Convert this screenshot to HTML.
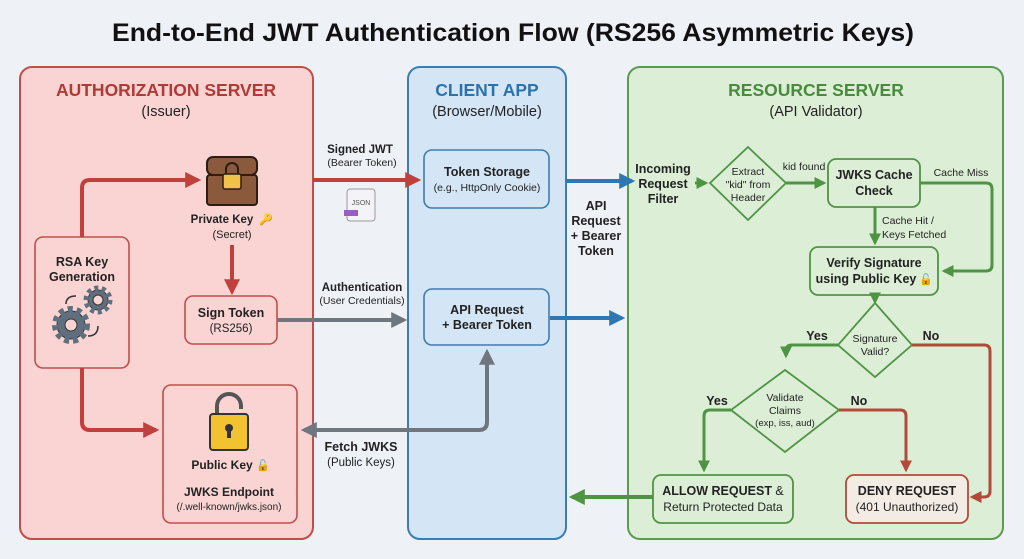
<!DOCTYPE html>
<html><head><meta charset="utf-8"><style>
html,body{margin:0;padding:0;background:#eef2f6;}
svg{display:block;font-family:"Liberation Sans",sans-serif;}
</style></head><body>
<svg width="1024" height="559" viewBox="0 0 1024 559" xmlns="http://www.w3.org/2000/svg">
<defs>
<marker id="ar" viewBox="0 0 10 10" refX="8" refY="5" markerWidth="4" markerHeight="4" orient="auto-start-reverse"><path d="M0,0L10,5L0,10z" fill="#c0403c"/></marker>
<marker id="ag" viewBox="0 0 10 10" refX="8" refY="5" markerWidth="4" markerHeight="4" orient="auto-start-reverse"><path d="M0,0L10,5L0,10z" fill="#6f767e"/></marker>
<marker id="ab" viewBox="0 0 10 10" refX="8" refY="5" markerWidth="4" markerHeight="4" orient="auto-start-reverse"><path d="M0,0L10,5L0,10z" fill="#2f77b0"/></marker>
<marker id="an" viewBox="0 0 10 10" refX="8" refY="5" markerWidth="4" markerHeight="4" orient="auto-start-reverse"><path d="M0,0L10,5L0,10z" fill="#4f9444"/></marker>
<marker id="ad" viewBox="0 0 10 10" refX="8" refY="5" markerWidth="4" markerHeight="4" orient="auto-start-reverse"><path d="M0,0L10,5L0,10z" fill="#b24a3a"/></marker>
</defs>
<rect width="1024" height="559" fill="#eef2f6"/>
<text x="513" y="41" font-size="25" font-weight="bold" text-anchor="middle" textLength="802" lengthAdjust="spacingAndGlyphs" fill="#111">End-to-End JWT Authentication Flow (RS256 Asymmetric Keys)</text>

<rect x="20" y="67" width="293" height="472" rx="12" fill="#f9d4d3" stroke="#c24e4a" stroke-width="2"/>
<rect x="408" y="67" width="158" height="472" rx="12" fill="#d4e6f6" stroke="#3c7db0" stroke-width="2"/>
<rect x="628" y="67" width="375" height="472" rx="12" fill="#dcefd6" stroke="#5b9b50" stroke-width="2"/>
<text x="166" y="96" font-size="17.5" font-weight="bold" text-anchor="middle" fill="#b03a36">AUTHORIZATION SERVER</text>
<text x="166" y="116" font-size="14.5" text-anchor="middle" fill="#222">(Issuer)</text>
<text x="487" y="96" font-size="17.5" font-weight="bold" text-anchor="middle" fill="#2c72ad">CLIENT APP</text>
<text x="487" y="116" font-size="14.5" text-anchor="middle" fill="#222">(Browser/Mobile)</text>
<text x="816" y="96" font-size="17.5" font-weight="bold" text-anchor="middle" fill="#4a8a3e">RESOURCE SERVER</text>
<text x="816" y="116" font-size="14.5" text-anchor="middle" fill="#222">(API Validator)</text>

<rect x="35" y="237" width="94" height="131" rx="8" fill="#f9d4d3" stroke="#c24e4a" stroke-width="1.6"/>
<text x="82" y="266" font-size="12.5" font-weight="bold" text-anchor="middle" fill="#222">RSA Key</text>
<text x="82" y="281" font-size="12.5" font-weight="bold" text-anchor="middle" fill="#222">Generation</text>
<g fill="none" stroke="#333">
<circle cx="71" cy="325" r="14" fill="#5f6f7d" stroke="#333" stroke-width="1"/>
<circle cx="71" cy="325" r="16" stroke="#5f6f7d" stroke-width="6" stroke-dasharray="5 4"/>
<circle cx="71" cy="325" r="6" fill="#f9d4d3" stroke-width="1"/>
<circle cx="98" cy="300" r="10" fill="#5f6f7d" stroke="#333" stroke-width="1"/>
<circle cx="98" cy="300" r="12" stroke="#5f6f7d" stroke-width="5" stroke-dasharray="4 3.5"/>
<circle cx="98" cy="300" r="5" fill="#f9d4d3" stroke-width="1"/>
<path d="M66,304 q0,-8 10,-8" stroke-width="1.5"/><path d="M88,336 q10,0 10,-10" stroke-width="1.5"/>
</g>
<rect x="207" y="157" width="50" height="18" rx="6" fill="#8b5a3c" stroke="#2d1d12" stroke-width="2"/>
<rect x="207" y="175" width="50" height="30" rx="3" fill="#8b5a3c" stroke="#2d1d12" stroke-width="2"/>
<rect x="223" y="174" width="18" height="15" rx="2" fill="#f0c24a" stroke="#2d1d12" stroke-width="1.5"/>
<path d="M226,174v-5a6,6 0 0 1 12,0v5" fill="none" stroke="#2d1d12" stroke-width="2"/>
<text x="222" y="223" font-size="11.5" font-weight="bold" text-anchor="middle" fill="#222">Private Key</text>
<text x="266" y="223" font-size="11" text-anchor="middle" fill="#e0b040">🔑</text>
<text x="232" y="238" font-size="11" text-anchor="middle" fill="#222">(Secret)</text>
<rect x="185" y="296" width="92" height="48" rx="8" fill="#f9d4d3" stroke="#c24e4a" stroke-width="1.6"/>
<text x="231" y="317" font-size="12.5" font-weight="bold" text-anchor="middle" fill="#222">Sign Token</text>
<text x="231" y="332" font-size="11.5" text-anchor="middle" fill="#222">(RS256)</text>
<rect x="163" y="385" width="134" height="138" rx="8" fill="#f9d4d3" stroke="#c24e4a" stroke-width="1.6"/>
<path d="M217,416v-10a12,12 0 0 1 24,0v3" fill="none" stroke="#555" stroke-width="4"/>
<rect x="210" y="414" width="38" height="36" rx="3" fill="#f2c230" stroke="#333" stroke-width="2"/>
<circle cx="229" cy="428" r="4" fill="#333"/><rect x="227" y="428" width="4" height="10" fill="#333"/>
<text x="222" y="469" font-size="12" font-weight="bold" text-anchor="middle" fill="#222">Public Key</text>
<text x="263" y="469" font-size="11" text-anchor="middle" fill="#e0b040">🔓</text>
<text x="229" y="496" font-size="12" font-weight="bold" text-anchor="middle" fill="#222">JWKS Endpoint</text>
<text x="229" y="510" font-size="10" text-anchor="middle" fill="#222">(/.well-known/jwks.json)</text>

<path d="M82,237V188q0,-8 8,-8H198" fill="none" stroke="#c0403c" stroke-width="4" marker-end="url(#ar)"/>
<path d="M232,245V292" fill="none" stroke="#c0403c" stroke-width="4" marker-end="url(#ar)"/>
<path d="M82,368V422q0,8 8,8H156" fill="none" stroke="#c0403c" stroke-width="4" marker-end="url(#ar)"/>

<text x="360" y="153" font-size="11.5" font-weight="bold" text-anchor="middle" fill="#222">Signed JWT</text>
<text x="362" y="166" font-size="10.5" text-anchor="middle" fill="#222">(Bearer Token)</text>
<path d="M313,180H418" fill="none" stroke="#c0403c" stroke-width="4" marker-end="url(#ar)"/>
<rect x="347" y="189" width="28" height="32" rx="3" fill="#f3f3f8" stroke="#999"/>
<text x="361" y="205" font-size="7" text-anchor="middle" fill="#555">JSON</text>
<rect x="344" y="210" width="14" height="6" fill="#9a5cc9"/>
<text x="362" y="291" font-size="11.5" font-weight="bold" text-anchor="middle" fill="#222">Authentication</text>
<text x="362" y="304" font-size="10.5" text-anchor="middle" fill="#222">(User Credentials)</text>
<path d="M277,320H404" fill="none" stroke="#6f767e" stroke-width="4" marker-end="url(#ag)"/>
<path d="M487,352V422q0,8 -8,8H304" fill="none" stroke="#6f767e" stroke-width="4" marker-end="url(#ag)" marker-start="url(#ag)"/>
<text x="361" y="451" font-size="12.5" font-weight="bold" text-anchor="middle" fill="#222">Fetch JWKS</text>
<text x="361" y="466" font-size="11.5" text-anchor="middle" fill="#222">(Public Keys)</text>

<rect x="424" y="150" width="125" height="58" rx="8" fill="#d4e6f6" stroke="#3c7db0" stroke-width="1.6"/>
<text x="487" y="176" font-size="12.5" font-weight="bold" text-anchor="middle" fill="#222">Token Storage</text>
<text x="487" y="191" font-size="10.5" text-anchor="middle" fill="#222">(e.g., HttpOnly Cookie)</text>
<rect x="424" y="289" width="125" height="56" rx="8" fill="#d4e6f6" stroke="#3c7db0" stroke-width="1.6"/>
<text x="487" y="314" font-size="12.5" font-weight="bold" text-anchor="middle" fill="#222">API Request</text>
<text x="487" y="329" font-size="12.5" font-weight="bold" text-anchor="middle" fill="#222">+ Bearer Token</text>
<path d="M566,181H632" fill="none" stroke="#2f77b0" stroke-width="4" marker-end="url(#ab)"/>
<path d="M550,318H622" fill="none" stroke="#2f77b0" stroke-width="4" marker-end="url(#ab)"/>
<g font-size="12.5" font-weight="bold" text-anchor="middle" fill="#222">
<text x="596" y="210">API</text><text x="596" y="225">Request</text><text x="596" y="240">+ Bearer</text><text x="596" y="255">Token</text>
</g>

<g font-size="12.5" font-weight="bold" text-anchor="middle" fill="#222">
<text x="663" y="173">Incoming</text><text x="663" y="188">Request</text><text x="663" y="203">Filter</text>
</g>
<path d="M695,183H706" stroke="#4f9444" stroke-width="3" marker-end="url(#an)"/>
<polygon points="748,147 786,183 748,220 710,183" fill="#dcefd6" stroke="#4f9444" stroke-width="1.8"/>
<g font-size="10.5" text-anchor="middle" fill="#222"><text x="748" y="175">Extract</text><text x="748" y="188">"kid" from</text><text x="748" y="201">Header</text></g>
<text x="804" y="170" font-size="10.5" text-anchor="middle" fill="#222">kid found</text>
<path d="M786,183H824" stroke="#4f9444" stroke-width="3" marker-end="url(#an)"/>
<rect x="828" y="159" width="92" height="48" rx="8" fill="#dcefd6" stroke="#4f9444" stroke-width="1.8"/>
<text x="874" y="179" font-size="12.5" font-weight="bold" text-anchor="middle" fill="#222">JWKS Cache</text>
<text x="874" y="195" font-size="12.5" font-weight="bold" text-anchor="middle" fill="#222">Check</text>
<text x="961" y="176" font-size="10.5" text-anchor="middle" fill="#222">Cache Miss</text>
<path d="M920,183H986q6,0 6,6V265q0,6 -6,6H944" fill="none" stroke="#4f9444" stroke-width="3" marker-end="url(#an)"/>
<path d="M875,207V243" stroke="#4f9444" stroke-width="3" marker-end="url(#an)"/>
<text x="882" y="224" font-size="10.5" fill="#222">Cache Hit /</text>
<text x="882" y="238" font-size="10.5" fill="#222">Keys Fetched</text>
<rect x="810" y="247" width="128" height="48" rx="8" fill="#dcefd6" stroke="#4f9444" stroke-width="1.8"/>
<text x="874" y="267" font-size="12.5" font-weight="bold" text-anchor="middle" fill="#222">Verify Signature</text>
<text x="866" y="283" font-size="12.5" font-weight="bold" text-anchor="middle" fill="#222">using Public Key</text>
<text x="926" y="283" font-size="11" text-anchor="middle" fill="#e0b040">🔓</text>
<path d="M875,295V302" stroke="#4f9444" stroke-width="3" marker-end="url(#an)"/>
<polygon points="875,303 912,345 875,377 838,345" fill="#dcefd6" stroke="#4f9444" stroke-width="1.8"/>
<text x="875" y="342" font-size="10.5" text-anchor="middle" fill="#222">Signature</text>
<text x="875" y="355" font-size="10.5" text-anchor="middle" fill="#222">Valid?</text>
<text x="817" y="340" font-size="12.5" font-weight="bold" text-anchor="middle" fill="#222">Yes</text>
<text x="931" y="340" font-size="12.5" font-weight="bold" text-anchor="middle" fill="#222">No</text>
<path d="M838,345H792q-6,0 -6,6V356" fill="none" stroke="#4f9444" stroke-width="3" marker-end="url(#an)"/>
<path d="M912,345H984q6,0 6,6V491q0,6 -6,6H972" fill="none" stroke="#b24a3a" stroke-width="3" marker-end="url(#ad)"/>
<polygon points="785,370 839,410 785,452 731,410" fill="#dcefd6" stroke="#4f9444" stroke-width="1.8"/>
<g font-size="10.5" text-anchor="middle" fill="#222"><text x="785" y="401">Validate</text><text x="785" y="414">Claims</text><text x="785" y="426" font-size="9.5">(exp, iss, aud)</text></g>
<text x="717" y="405" font-size="12.5" font-weight="bold" text-anchor="middle" fill="#222">Yes</text>
<text x="859" y="405" font-size="12.5" font-weight="bold" text-anchor="middle" fill="#222">No</text>
<path d="M731,410H710q-6,0 -6,6V470" fill="none" stroke="#4f9444" stroke-width="3" marker-end="url(#an)"/>
<path d="M839,410H900q6,0 6,6V470" fill="none" stroke="#b24a3a" stroke-width="3" marker-end="url(#ad)"/>
<rect x="653" y="475" width="140" height="48" rx="8" fill="#dcefd6" stroke="#4f9444" stroke-width="1.8"/>
<text x="723" y="495" font-size="12.5" text-anchor="middle" fill="#222"><tspan font-weight="bold">ALLOW REQUEST</tspan> &amp;</text>
<text x="723" y="511" font-size="12" text-anchor="middle" fill="#222">Return Protected Data</text>
<rect x="846" y="475" width="122" height="48" rx="8" fill="#f3ece4" stroke="#b24a3a" stroke-width="1.8"/>
<text x="907" y="495" font-size="12.5" font-weight="bold" text-anchor="middle" fill="#222">DENY REQUEST</text>
<text x="907" y="511" font-size="12" text-anchor="middle" fill="#222">(401 Unauthorized)</text>
<path d="M653,497H572" fill="none" stroke="#4f9444" stroke-width="4" marker-end="url(#an)"/>
</svg>
</body></html>
